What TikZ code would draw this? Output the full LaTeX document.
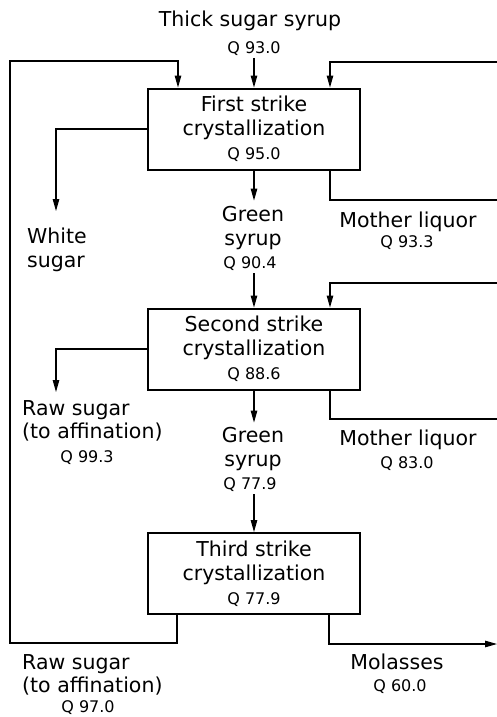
\documentclass[tikz,border=0pt]{standalone}
\usepackage{fontspec}
\setmainfont{DejaVu Sans}
\usetikzlibrary{arrows.meta,calc}
\begin{document}
\begin{tikzpicture}[x=1pt,y=-1pt,
  big/.style={font=\fontsize{20.5}{24}\selectfont, inner sep=0pt},
  sml/.style={font=\fontsize{16}{24}\selectfont, inner sep=0pt},
  procbox/.style={draw, line width=2pt, minimum width=212pt, minimum height=81pt,
    inner sep=0pt, align=center, font=\fontsize{20.5}{24}\selectfont},
  conn/.style={line width=1.1pt},
  arr/.style={conn, -{Triangle[length=12pt,width=6.5pt]}}]
\useasboundingbox (0,0) rectangle (497,717);

% process boxes
\node[procbox] (b1) at (254,129) {First strike\\crystallization\\{\fontsize{16}{24}\selectfont Q 95.0}};
\node[procbox] (b2) at (254,349) {Second strike\\crystallization\\{\fontsize{16}{24}\selectfont Q 88.6}};
\node[procbox] (b3) at (254,573.5) {Third strike\\crystallization\\{\fontsize{16}{24}\selectfont Q 77.9}};

% labels
\node[big, anchor=base] (tss) at (250,27) {Thick sugar syrup};
\node[sml, anchor=base] (q930) at (254,53) {Q 93.0};

\node[big, anchor=base west] (white) at (27,243) {White};
\node[big, anchor=base west] (sugar1) at (27,267) {sugar};

\node[big, anchor=base] (green1) at (253,221) {Green};
\node[big, anchor=base] (syrup1) at (253,245) {syrup};
\node[sml, anchor=base] (q904) at (250,268) {Q 90.4};

\node[big, anchor=base] (ml1) at (408,227) {Mother liquor};
\node[sml, anchor=base] (q933) at (407,247) {Q 93.3};

\node[big, anchor=base west] (raw2) at (22,415) {Raw sugar};
\node[big, anchor=base west] (aff2) at (22,438) {(to affination)};
\node[sml, anchor=base] (q993) at (87,462) {Q 99.3};

\node[big, anchor=base] (green2) at (253,442) {Green};
\node[big, anchor=base] (syrup2) at (253,466) {syrup};
\node[sml, anchor=base] (q779) at (250,489) {Q 77.9};

\node[big, anchor=base] (ml2) at (408,445) {Mother liquor};
\node[sml, anchor=base] (q830) at (407,468) {Q 83.0};

\node[big, anchor=base west] (raw3) at (22,669) {Raw sugar};
\node[big, anchor=base west] (aff3) at (22,692) {(to affination)};
\node[sml, anchor=base] (q970) at (88,712) {Q 97.0};

\node[big, anchor=base] (mol) at (397,669) {Molasses};
\node[sml, anchor=base] (q600) at (400,691) {Q 60.0};

% free ends
\coordinate (wtip) at (56,211);
\coordinate (rtip) at (56,392);
\coordinate (r1top) at (497,62);
\coordinate (r1bot) at (497,200);
\coordinate (r2top) at (497,283);
\coordinate (r2bot) at (497,419);
\coordinate (lb) at (10,643);
\coordinate (lt) at (10,61);
\coordinate (molend) at (497,644);

% connectors
\draw[arr] ($(b1.north |- q930.base)+(0,5)$) -- (b1.north);
\draw[arr] (b1.south) -- ($(b1.south |- green1.north)+(0,-5)$);
\draw[arr] (b1.west) -| (wtip);
\draw[arr] (r1top) -| ($(b1.north east)+(-31,0)$);
\draw[conn] ($(b1.south east)+(-31,0)$) |- (r1bot);

\draw[arr] ($(b2.north |- q904.base)+(0,5)$) -- (b2.north);
\draw[arr] (b2.south) -- ($(b2.south |- green2.north)+(0,-4)$);
\draw[arr] (b2.west) -| (rtip);
\draw[arr] (r2top) -| ($(b2.north east)+(-31,0)$);
\draw[conn] ($(b2.south east)+(-31,0)$) |- (r2bot);

\draw[arr] ($(b3.north |- q779.base)+(0,5)$) -- (b3.north);
\draw[arr] ($(b3.south west)+(30,0)$) |- (lb) -- (lt) -| ($(b1.north west)+(31,0)$);
\draw[arr] ($(b3.south east)+(-32,0)$) |- (molend);
\end{tikzpicture}
\end{document}
